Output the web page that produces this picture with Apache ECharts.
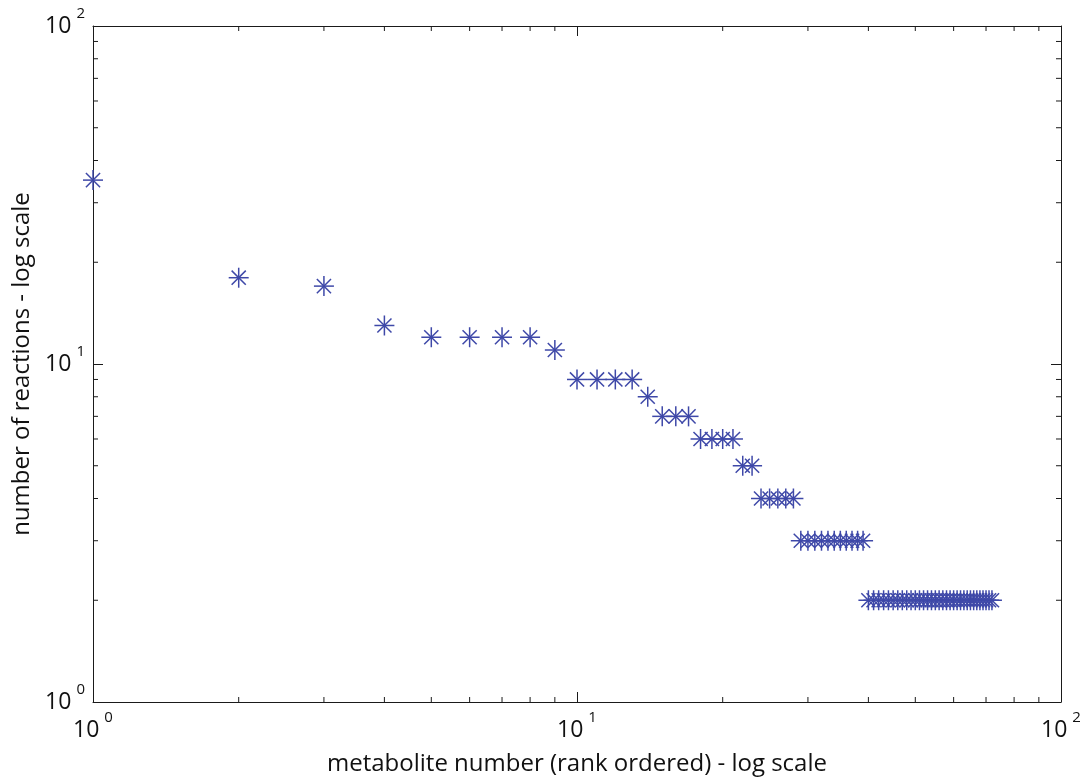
<!DOCTYPE html>
<html>
<head>
<meta charset="utf-8">
<title>Metabolite connectivity</title>
<script src="https://cdn.jsdelivr.net/npm/echarts@6/dist/echarts.min.js"></script>
<style>
  html, body { margin: 0; padding: 0; background: #fff; }
  #chart { width: 1081px; height: 778px; }
</style>
</head>
<body>
<div id="chart"></div>
<script>
// Number of reactions each metabolite takes part in, sorted by rank (rank 1 = most connected)
const reactions = [
  35, 18, 17, 13, 12, 12, 12, 12, 11,
  9, 9, 9, 9, 8, 7, 7, 7,
  6, 6, 6, 6, 5, 5,
  4, 4, 4, 4, 4,
  3, 3, 3, 3, 3, 3, 3, 3, 3, 3, 3,
  2, 2, 2, 2, 2, 2, 2, 2, 2, 2, 2,
  2, 2, 2, 2, 2, 2, 2, 2, 2, 2, 2,
  2, 2, 2, 2, 2, 2, 2, 2, 2, 2, 2
];

// Minor tick positions inside each decade
const minorTicks = [2, 3, 4, 5, 6, 7, 8, 9, 20, 30, 40, 50, 60, 70, 80, 90];

const xTitle = 'metabolite number (rank ordered) - log scale';
const yTitle = 'number of reactions - log scale';

const markerColor = '#3e48a8';
const axisColor = '#1a1a1a';
const fontFamily = '"Open Sans", "Noto Sans", sans-serif';

const points = reactions.map((v, i) => [i + 1, v]);

// "10" with a raised exponent
const labelRich = {
  b: { fontSize: 23, lineHeight: 40, color: '#111', fontFamily: fontFamily, verticalAlign: 'middle' },
  s: { fontSize: 15, lineHeight: 15, color: '#111', fontFamily: fontFamily, verticalAlign: 'top', padding: [0, 0, 0, 5] }
};
const powerLabel = v => '{b|10}{s|' + Math.round(Math.log10(v)) + '}';

function logAxis(position, withLabels, extra) {
  return Object.assign({
    type: 'log',
    logBase: 10,
    min: 1,
    max: 100,
    position: position,
    axisLine: { show: true, onZero: false, lineStyle: { color: axisColor, width: 1 } },
    axisTick: { show: true, inside: true, length: 10, lineStyle: { color: axisColor, width: 1 } },
    axisLabel: withLabels
      ? { show: true, margin: 8, formatter: powerLabel, rich: labelRich }
      : { show: false },
    splitLine: { show: false },
    minorTick: { show: false }
  }, extra || {});
}

// Eight-armed asterisk drawn around each data point
function asterisk(params, api) {
  const p = api.coord([api.value(0), api.value(1)]);
  const r = 10, d = 7.07;
  const style = { stroke: markerColor, lineWidth: 1.5 };
  const seg = (x1, y1, x2, y2) => ({
    type: 'line',
    shape: { x1: p[0] + x1, y1: p[1] + y1, x2: p[0] + x2, y2: p[1] + y2 },
    style: style
  });
  return {
    type: 'group',
    children: [
      seg(-r, 0, r, 0),
      seg(0, -r, 0, r),
      seg(-d, -d, d, d),
      seg(-d, d, d, -d)
    ]
  };
}

// Short inward ticks between the decades, on both opposite edges of the box
function minorTickRenderer(horizontal) {
  return function (params, api) {
    const v = api.value(0);
    const len = 5;
    const style = { stroke: axisColor, lineWidth: 1 };
    let a, b, children;
    if (horizontal) {
      a = api.coord([v, 1]);
      b = api.coord([v, 100]);
      children = [
        { type: 'line', shape: { x1: a[0], y1: a[1], x2: a[0], y2: a[1] - len }, style: style },
        { type: 'line', shape: { x1: b[0], y1: b[1], x2: b[0], y2: b[1] + len }, style: style }
      ];
    } else {
      a = api.coord([1, api.value(1)]);
      b = api.coord([100, api.value(1)]);
      children = [
        { type: 'line', shape: { x1: a[0], y1: a[1], x2: a[0] + len, y2: a[1] }, style: style },
        { type: 'line', shape: { x1: b[0], y1: b[1], x2: b[0] - len, y2: b[1] }, style: style }
      ];
    }
    return { type: 'group', children: children };
  };
}

const chart = echarts.init(document.getElementById('chart'), null, { renderer: 'canvas' });

chart.setOption({
  backgroundColor: '#ffffff',
  animation: false,
  grid: { left: 93, right: 20, top: 26, bottom: 76, containLabel: false, outerBoundsMode: 'none' },
  xAxis: [
    logAxis('bottom', true, {
      name: xTitle,
      nameLocation: 'middle',
      nameGap: 50,
      nameTextStyle: { fontSize: 24, color: '#111', fontFamily: fontFamily }
    }),
    logAxis('top', false)
  ],
  yAxis: [
    logAxis('left', true, {
      name: yTitle,
      nameLocation: 'middle',
      nameGap: 55,
      nameTextStyle: { fontSize: 24, color: '#111', fontFamily: fontFamily }
    }),
    logAxis('right', false)
  ],
  series: [
    {
      name: 'minor x ticks',
      type: 'custom',
      xAxisIndex: 0,
      yAxisIndex: 0,
      clip: false,
      silent: true,
      renderItem: minorTickRenderer(true),
      data: minorTicks.map(v => [v, 1])
    },
    {
      name: 'minor y ticks',
      type: 'custom',
      xAxisIndex: 0,
      yAxisIndex: 0,
      clip: false,
      silent: true,
      renderItem: minorTickRenderer(false),
      data: minorTicks.map(v => [1, v])
    },
    {
      name: 'reactions',
      type: 'custom',
      xAxisIndex: 0,
      yAxisIndex: 0,
      clip: false,
      renderItem: asterisk,
      data: points
    }
  ]
});
</script>
</body>
</html>
